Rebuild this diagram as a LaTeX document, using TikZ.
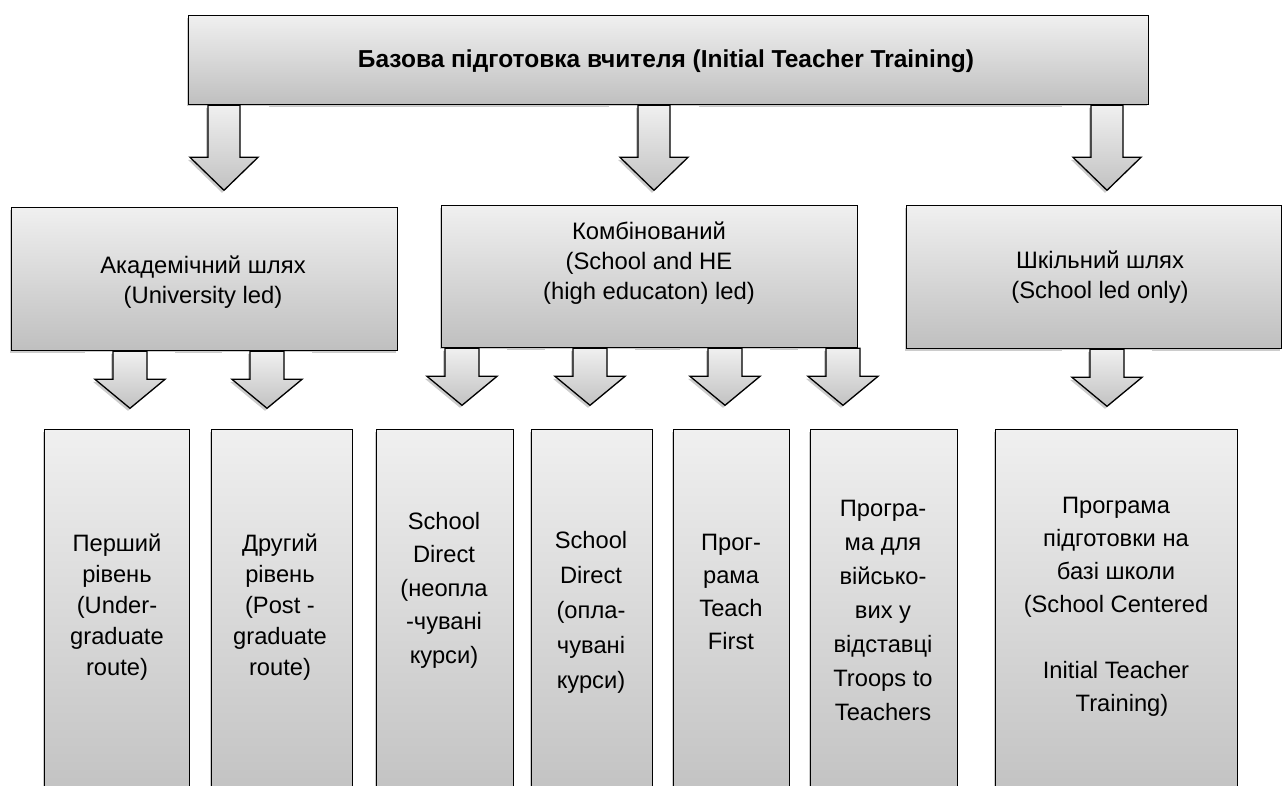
\documentclass[tikz,border=0pt]{standalone}
\usepackage{fontspec}
\setmainfont{Liberation Sans}
\usetikzlibrary{shadows}
\begin{document}
\begin{tikzpicture}[x=1pt,y=-1pt,
  shd/.style={drop shadow={shadow xshift=-2pt,shadow yshift=-2.5pt,opacity=0.4}},
  box/.style={draw=black,line width=1.3pt,top color=gray!12,bottom color=gray!50,shd,anchor=north west,inner sep=0pt},
  arw/.style={draw=black,line width=1.3pt,top color=gray!12,bottom color=gray!48,shd,line join=miter},
  lbl/.style={align=center,inner sep=0pt,font=\fontsize{23.8}{30}\selectfont},
  lbs/.style={align=center,inner sep=0pt,font=\fontsize{23.7}{#1}\selectfont},
  bigarrow/.pic={\fill[white] (-45,0.2) rectangle (45,22);
    \path[arw] (-16,0) -- (16,0) -- (16,52) -- (34,52) -- (0,85) -- (-34,52) -- (-16,52) -- cycle;},
  smallarrow/.pic={\fill[white] (-45,0.2) rectangle (45,20);
    \path[arw] (-17,0) -- (17,0) -- (17,28) -- (35,28) -- (0,57) -- (-35,28) -- (-17,28) -- cycle;}
]
\useasboundingbox (0,0) rectangle (1285,785);
\clip (0,0) rectangle (1285,785);
\fill[white] (0,0) rectangle (1285,785);

% boxes
\node[box,minimum width=960pt,minimum height=89pt] (top) at (188,15) {};
\node[box,minimum width=386pt,minimum height=143pt] (L) at (11,207) {};
\node[box,minimum width=416pt,minimum height=142pt] (M) at (441,205) {};
\node[box,minimum width=375pt,minimum height=143pt] (R) at (906,205) {};
\node[box,minimum width=145pt,minimum height=390pt] (b1) at (44,429) {};
\node[box,minimum width=141pt,minimum height=390pt] (b2) at (211,429) {};
\node[box,minimum width=137pt,minimum height=390pt] (b3) at (376,429) {};
\node[box,minimum width=121pt,minimum height=390pt] (b4) at (531,429) {};
\node[box,minimum width=116pt,minimum height=390pt] (b5) at (673,429) {};
\node[box,minimum width=147pt,minimum height=390pt] (b6) at (810,429) {};
\node[box,minimum width=242pt,minimum height=390pt] (b7) at (995,429) {};

% arrows
\pic at (top.south -| 224,0) {bigarrow};
\pic at (top.south -| 654,0) {bigarrow};
\pic at (top.south -| 1107,0) {bigarrow};
\pic at (L.south -| 130,0) {smallarrow};
\pic at (L.south -| 267,0) {smallarrow};
\pic at (M.south -| 462,0) {smallarrow};
\pic at (M.south -| 590,0) {smallarrow};
\pic at (M.south -| 725,0) {smallarrow};
\pic at (M.south -| 843,0) {smallarrow};
\pic at (R.south -| 1107,0) {smallarrow};

% texts
\node[inner sep=0pt,font=\bfseries\fontsize{24.5}{28}\selectfont] (t0) at (666,61) {Базова підготовка вчителя (Initial Teacher Training)};
\node[lbl] (tL) at (203,282) {Академічний шлях\\(University led)};
\node[lbl] (tM) at (649,263) {Комбінований\\(School and HE\\(high educaton) led)};
\node[lbl] (tR) at (1100,277) {Шкільний шлях\\(School led only)};
\node[lbs=31] (t1) at (117,607) {Перший\\рівень\\(Under-\\graduate\\route)};
\node[lbs=31] (t2) at (280,607) {Другий\\рівень\\(Post -\\graduate\\route)};
\node[lbs=33.5] (t3) at (444,590) {School\\Direct\\(неопла\\-чувані\\курси)};
\node[lbs=35] (t4) at (591,612) {School\\Direct\\(опла-\\чувані\\курси)};
\node[lbs=33] (t5) at (731,592) {Прог-\\рама\\Teach\\First};
\node[lbs=34] (t6) at (883,610) {Програ-\\ма для\\військо-\\вих у\\відставці\\Troops to\\Teachers};
\node[lbs=33] (t7) at (1116,607) {Програма\\підготовки на\\базі школи\\(School Centered\\[33pt]Initial Teacher\\\hspace*{12pt}Training)};
\end{tikzpicture}
\end{document}
